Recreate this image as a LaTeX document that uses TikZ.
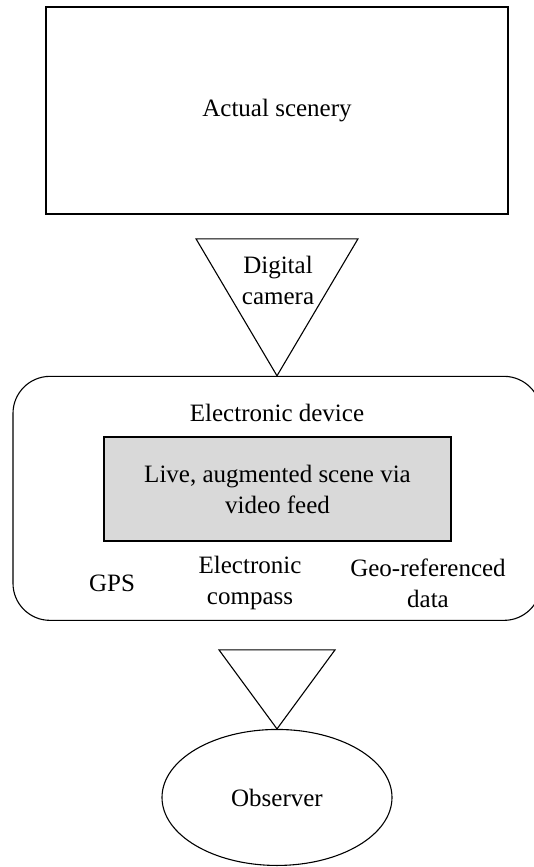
\documentclass[tikz,border=0pt]{standalone}
\usepackage{fontspec}
\setmainfont{Liberation Serif}
\usetikzlibrary{positioning, shapes.geometric}

\begin{document}
\begin{tikzpicture}[
x=1pt, y=-1pt,
font=\fontsize{25}{31}\selectfont,
scenebox/.style={draw,
rectangle,
line width=1.6pt,
minimum width=462pt,
minimum height=207pt},
devicebox/.style={draw,
rectangle,
rounded corners=37pt,
line width=1.1pt,
minimum width=528pt,
minimum height=244pt},
screen/.style={draw,
rectangle,
fill=black!15,
line width=1.1pt,
minimum width=347pt,
minimum height=104pt,
align=center},
viewer/.style={draw,
ellipse,
line width=1.1pt,
minimum width=230pt,
minimum height=136pt},
cone/.style={draw, line width=1.1pt},
txt/.style={align=center, inner sep=0pt}
]

\path[use as bounding box, clip] (0,0) rectangle (534,867);

\node[scenebox] (scene) at (277,110.5) {Actual scenery};
\node[devicebox, below=161pt of scene] (device) {};
\node[viewer, below=108pt of device] (observer) {Observer};

% camera between scenery and device
\coordinate[below=24pt of scene.south] (camtop);
\draw[cone] ([xshift=-81pt]camtop) -- ([xshift=81pt]camtop) -- (device.north) -- cycle;
\node[txt] (camera) at (278,280) {Digital\\camera};

% inside the device
\node[txt] (devtitle) at (277,413) {Electronic device};
\node[screen] (screen) at (277.5,489) {Live, augmented scene via\\video feed};
\node[txt] (gps) at (112,583) {GPS};
\node[txt] (compass) at (250,583) {Electronic\\compass};
\node[txt] (geodata) at (428,583) {Geo-referenced\\data};

% view cone to observer
\coordinate[below=29pt of device.south] (eyetop);
\draw[cone] ([xshift=-58pt]eyetop) -- ([xshift=58pt]eyetop) -- (observer.north) -- cycle;

\end{tikzpicture}
\end{document}
